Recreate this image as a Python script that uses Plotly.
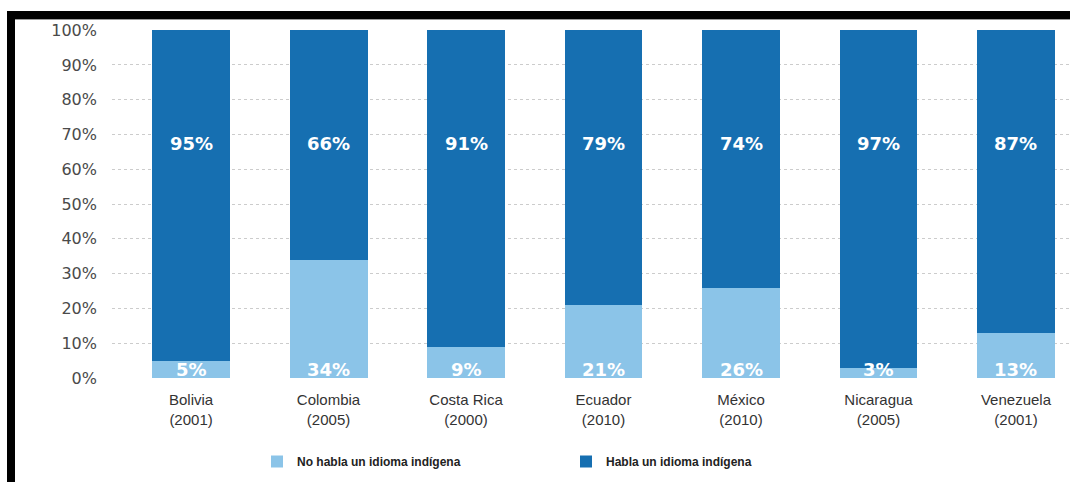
import plotly.graph_objects as go

# Census data: share of indigenous population by language use
countries = ["Bolivia<br>(2001)", "Colombia<br>(2005)", "Costa Rica<br>(2000)",
             "Ecuador<br>(2010)", "México<br>(2010)", "Nicaragua<br>(2005)",
             "Venezuela<br>(2001)"]
no_habla = [5, 34, 9, 21, 26, 3, 13]
habla = [95, 66, 91, 79, 74, 97, 87]
y_ticks = [0, 10, 20, 30, 40, 50, 60, 70, 80, 90, 100]

LIGHT = "#8bc4e8"
DARK = "#166fb1"

xs = list(range(len(countries)))
W, H = 1070, 482
ML, MR, MT, MB = 112, 0, 30, 104
PW, PH = W - ML - MR, H - MT - MB
X0, X1 = -0.575, 6.393

def px_x(p):
    return (p - ML) / PW

def px_y(p):
    return (H - MB - p) / PH

fig = go.Figure()
fig.add_bar(x=xs, y=[v / 100 for v in no_habla], name="No habla un idioma indígena",
            marker=dict(color=LIGHT, line=dict(width=0)), width=0.567)
fig.add_bar(x=xs, y=[v / 100 for v in habla], name="Habla un idioma indígena",
            marker=dict(color=DARK, line=dict(width=0)), width=0.567)

lab_font = dict(family="DejaVu Sans", size=18, color="white", weight="bold")
for i in xs:
    fig.add_annotation(x=i, y=0.673, text=f"{habla[i]}%", showarrow=False,
                       font=lab_font, xanchor="center", yanchor="middle")
    fig.add_annotation(x=i, y=0.024, text=f"{no_habla[i]}%", showarrow=False,
                       font=lab_font, xanchor="center", yanchor="middle")

# frame lines along the top and left edges
fig.add_shape(type="rect", xref="paper", yref="paper",
              x0=px_x(7), x1=px_x(1075), y0=px_y(20), y1=px_y(19),
              fillcolor="#9a9a9a", line=dict(width=0), layer="above")
fig.add_shape(type="rect", xref="paper", yref="paper",
              x0=px_x(7), x1=px_x(1075), y0=px_y(19), y1=px_y(11),
              fillcolor="black", line=dict(width=0), layer="above")
fig.add_shape(type="rect", xref="paper", yref="paper",
              x0=px_x(7), x1=px_x(15), y0=px_y(490), y1=px_y(11),
              fillcolor="black", line=dict(width=0), layer="above")

fig.update_layout(
    width=W, height=H,
    margin=dict(l=ML, r=MR, t=MT, b=MB, pad=0),
    barmode="stack",
    plot_bgcolor="white", paper_bgcolor="white",
    font=dict(family="Liberation Sans", color="#333333"),
    showlegend=True,
    legend=dict(orientation="h", x=px_x(257), xanchor="left",
                y=px_y(447), yanchor="top",
                entrywidth=264, entrywidthmode="pixels",
                font=dict(family="Liberation Sans", size=12, color="#222222", weight="bold"),
                itemclick=False, traceorder="normal"),
    xaxis=dict(range=[X0, X1], tickvals=xs, ticktext=countries, ticks="",
               showgrid=False, zeroline=False, showline=False,
               ticklabelstandoff=11,
               tickfont=dict(family="Liberation Sans", size=15, color="#333333")),
    yaxis=dict(range=[0, 1.0005], tickvals=[v / 100 for v in y_ticks],
               ticktext=[f"{v}%" for v in y_ticks], ticks="",
               showgrid=True, gridcolor="#cccccc", gridwidth=1, griddash="3px,3px",
               zeroline=False, showline=False, ticklabelstandoff=14,
               tickfont=dict(family="DejaVu Sans", size=16, color="#4a4a4a")),
)

fig.write_html("out.html")
